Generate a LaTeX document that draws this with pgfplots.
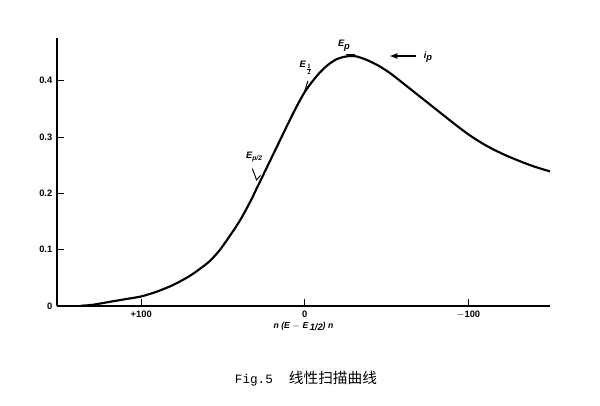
\documentclass[border=0pt]{standalone}
\usepackage{pgfplots}
\pgfplotsset{compat=1.18}
\usepackage{fontspec}
\setmainfont{Liberation Serif}
\setsansfont{Liberation Sans}
\setmonofont{Liberation Mono}
\newfontfamily\cjk{Noto Sans CJK SC}
\begin{document}
\begin{tikzpicture}
\path (0pt,0pt) rectangle (450pt,304.5pt);
\begin{axis}[
  at={(42.75pt,75pt)}, anchor=south west,
  scale only axis, width=369.75pt, height=201pt,
  x dir=reverse,
  xmin=-150, xmax=151.5, ymin=0, ymax=0.476,
  axis lines=left, axis line style={-, line width=1.1pt},
  xtick={-100,0,100}, xticklabels={$-$100,0,+100},
  ytick={0,0.1,0.2,0.3,0.4},
  yticklabels={0,0.1,0.2,0.3,0.4},
  tick align=inside, major tick length=5pt,
  tick style={line width=0.8pt, black},
  ticklabel style={font=\sffamily\bfseries\fontsize{7}{8}\selectfont},
  /pgf/number format/assume math mode=true,
  xlabel={\bfseries\itshape\sffamily\fontsize{6.5}{7}\selectfont n (E $-$ E\,\raisebox{-0.4ex}{\scriptsize 1/2}) n},
  xlabel style={yshift=4pt},
  clip=false,
]
\addplot[line width=1.6pt, smooth, tension=0.5] coordinates {
 (137,0.0005) (130,0.002) (120,0.007) (110,0.012) (100,0.017) (90,0.026) (80,0.038) (70,0.054) (60,0.075)
 (55,0.089) (50,0.107) (40,0.150) (33,0.187) (30,0.205) (20,0.265) (10,0.325) (5,0.354) (0,0.380)
 (-5,0.400) (-10,0.417) (-15,0.430) (-20,0.439) (-25,0.443) (-28.5,0.444)
 (-32,0.443) (-38,0.437) (-45,0.427) (-52,0.414) (-60,0.396) (-70,0.373)
 (-80,0.350) (-90,0.327) (-100,0.305) (-110,0.2865) (-120,0.2715) (-130,0.259) (-140,0.248) (-150,0.239)
};
\node[font=\sffamily\bfseries\itshape\fontsize{7}{8}\selectfont] at (axis cs:-24,0.462) {E\raisebox{-0.5ex}{\scriptsize p}};
\draw[line width=0.7pt] (axis cs:-25,0.446) -- (axis cs:-31,0.446);
\node[font=\sffamily\bfseries\itshape\fontsize{7}{8}\selectfont] at (axis cs:-1,0.423) {E$\mathbf{_{\frac{1}{2}}}$};
\draw[line width=0.7pt] (axis cs:-2,0.400) -- (axis cs:0,0.382);
\node[font=\sffamily\bfseries\itshape\fontsize{7}{8}\selectfont] at (axis cs:31,0.265) {E\raisebox{-0.5ex}{\tiny p/2}};
\draw[line width=0.7pt] (axis cs:32,0.244) -- (axis cs:29.5,0.224) -- (axis cs:27,0.232);
\draw[line width=1pt, -latex] (axis cs:-68,0.444) -- (axis cs:-52,0.444);
\node[font=\sffamily\bfseries\itshape\fontsize{7}{8}\selectfont, anchor=west] at (axis cs:-70,0.442) {i\raisebox{-0.5ex}{\scriptsize p}};
\end{axis}
\node[anchor=base west, inner sep=0pt, font=\fontsize{11}{13}\selectfont] at (176pt,17pt) {{\ttfamily\fontsize{9.5}{11}\selectfont Fig.5}\hspace{12pt}{\cjk 线性扫描曲线}};
\end{tikzpicture}
\end{document}
